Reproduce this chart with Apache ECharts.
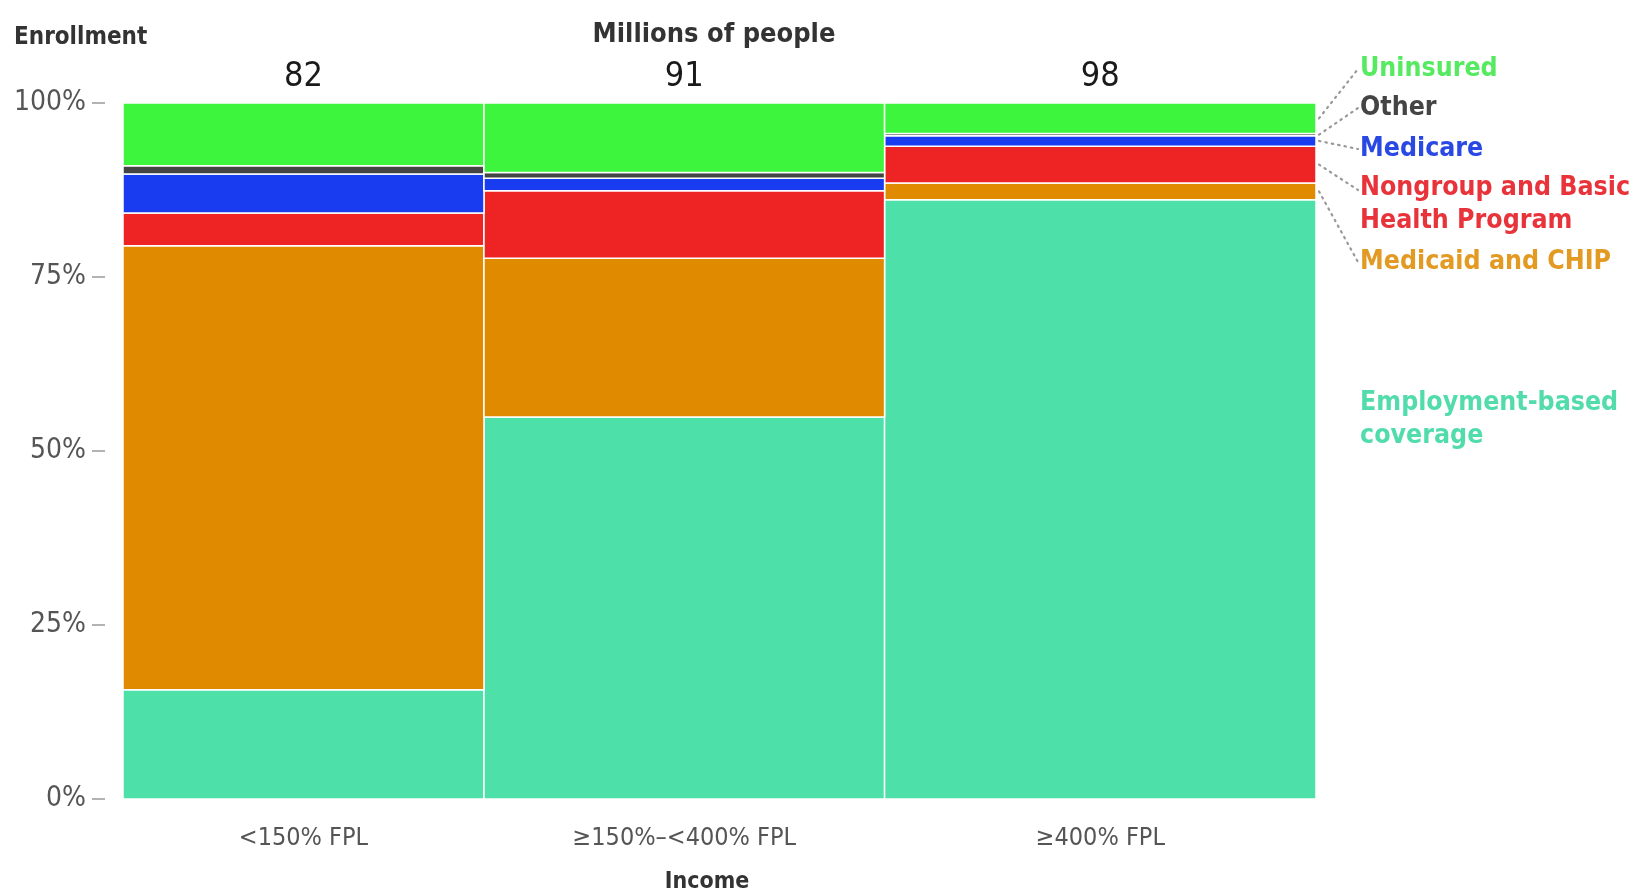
<!DOCTYPE html>
<html>
<head>
<meta charset="utf-8">
<script src="https://cdn.jsdelivr.net/npm/echarts@6/dist/echarts.min.js"></script>
<style>
html,body{margin:0;padding:0;background:#fff;}
#chart{width:1634px;height:892px;}
</style>
</head>
<body>
<div id="chart"></div>
<script>
// ---- data ----
const incomeGroups = ['<150% FPL', '≥150%–<400% FPL', '≥400% FPL'];
const totalsMillions = [82, 91, 98];
const employment = [15.7, 54.9, 86.1];
const medicaid   = [63.8, 22.8, 2.4];
const nongroup   = [4.7, 9.7, 5.3];
const medicare   = [5.6, 1.8, 1.5];
const other      = [1.2, 0.8, 0.3];
const uninsured  = [9.0, 10.0, 4.4];
const yTicks = [0, 25, 50, 75, 100];
const layerNames = ['Employment-based\ncoverage', 'Medicaid and CHIP', 'Nongroup and Basic\nHealth Program', 'Medicare', 'Other', 'Uninsured'];

// ---- styles / layout ----
const FONT = '"DejaVu Sans Condensed","Liberation Sans Narrow","DejaVu Sans",sans-serif';
const layers = [
  {values: employment, color: '#4de0a8', text: '#52dcac', labelY: 420, leader: false},
  {values: medicaid,   color: '#e08a00', text: '#e39a22', labelY: 262, leader: true},
  {values: nongroup,   color: '#ee2324', text: '#e8333a', labelY: 205, leaderY: 190, leader: true},
  {values: medicare,   color: '#1a3cf0', text: '#2a48e4', labelY: 149, leader: true},
  {values: other,      color: '#444444', text: '#444444', labelY: 108, leader: true},
  {values: uninsured,  color: '#3cf53c', text: '#55ea60', labelY: 69, leader: true}
];
const LABEL_X = 1360;

// ---- build marimekko geometry from data ----
const totalAll = totalsMillions.reduce((a, b) => a + b, 0);
const xStart = [];
let acc = 0;
totalsMillions.forEach(t => { xStart.push(acc); acc += t; });
const cum = incomeGroups.map(() => 0);
const layerData = layers.map(l => l.values.map((v, i) => {
  const y0 = cum[i];
  cum[i] += v;
  return [xStart[i], xStart[i] + totalsMillions[i], y0, cum[i]];
}));

const chart = echarts.init(document.getElementById('chart'));

const series = layers.map((l, li) => ({
  type: 'custom',
  name: layerNames[li].replace('\n', ' '),
  data: layerData[li],
  encode: {x: [0, 1], y: [2, 3]},
  silent: true,
  renderItem: function (params, api) {
    const i = params.dataIndex;
    const p0 = api.coord([api.value(0), api.value(3)]);
    const p1 = api.coord([api.value(1), api.value(2)]);
    const children = [{
      type: 'rect',
      shape: {x: p0[0], y: p0[1], width: p1[0] - p0[0], height: p1[1] - p0[1]},
      style: {fill: l.color, stroke: '#ffffff', lineWidth: 1.5}
    }];
    if (i === incomeGroups.length - 1) {
      const mid = api.coord([api.value(1), (api.value(2) + api.value(3)) / 2]);
      const ly = l.leaderY || l.labelY;
      if (l.leader) {
        children.push({
          type: 'polyline',
          shape: {points: [[mid[0] + 3, mid[1]], [LABEL_X - 2, ly]]},
          style: {stroke: '#999', lineWidth: 2.2, lineDash: [1.5, 5], lineCap: 'round', fill: null}
        });
      }
      children.push({
        type: 'text',
        style: {
          text: layerNames[li], x: LABEL_X, y: l.labelY,
          fill: l.text, font: 'bold 26.5px ' + FONT,
          align: 'left', verticalAlign: 'middle', lineHeight: 33
        }
      });
    }
    return {type: 'group', children: children};
  }
}));

// totals on top and income labels below each column
series.push({
  type: 'custom',
  name: 'annotations',
  silent: true,
  data: incomeGroups.map((g, i) => [xStart[i] + totalsMillions[i] / 2, totalsMillions[i]]),
  encode: {x: 0},
  renderItem: function (params, api) {
    const i = params.dataIndex;
    const top = api.coord([api.value(0), 100]);
    const bot = api.coord([api.value(0), 0]);
    return {type: 'group', children: [
      {type: 'text', style: {text: String(totalsMillions[i]), x: top[0], y: top[1] - 26,
        fill: '#1a1a1a', font: '34px ' + FONT, align: 'center', verticalAlign: 'middle'}},
      {type: 'text', style: {text: incomeGroups[i], x: bot[0], y: bot[1] + 39,
        fill: '#555', font: '25px ' + FONT, align: 'center', verticalAlign: 'middle'}}
    ]};
  }
});

chart.setOption({
  animation: false,
  backgroundColor: '#ffffff',
  grid: {left: 123, right: 318, top: 103, bottom: 93, containLabel: false},
  xAxis: {type: 'value', min: 0, max: totalAll, show: false},
  yAxis: {
    type: 'value', min: yTicks[0], max: yTicks[yTicks.length - 1], interval: 25,
    offset: 18,
    axisLine: {show: false, onZero: false},
    axisTick: {show: true, length: 13, lineStyle: {color: '#999', width: 1.5}},
    splitLine: {show: false},
    axisLabel: {formatter: '{value}%', color: '#555', fontSize: 28, fontFamily: FONT, margin: 19}
  },
  graphic: [
    {type: 'text', left: 14, top: 26, style: {text: 'Enrollment', fill: '#333', font: 'bold 24px ' + FONT}},
    {type: 'text', x: 714, y: 35, style: {text: 'Millions of people', fill: '#333', font: 'bold 27px ' + FONT, align: 'center', verticalAlign: 'middle'}},
    {type: 'text', x: 707, y: 882, style: {text: 'Income', fill: '#333', font: 'bold 23px ' + FONT, align: 'center', verticalAlign: 'middle'}}
  ],
  series: series
});
</script>
</body>
</html>
